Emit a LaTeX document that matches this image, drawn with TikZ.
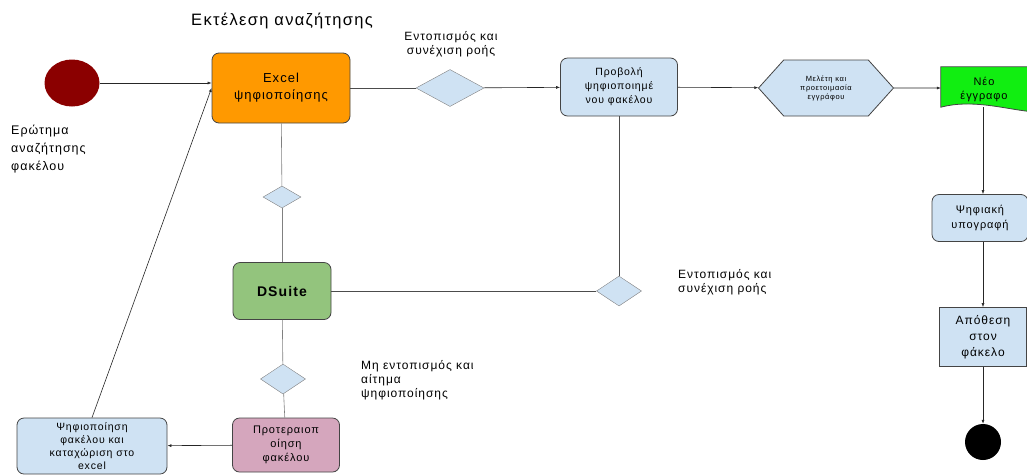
\documentclass[tikz,border=0pt]{standalone}
\usepackage{fontspec}
\setmainfont{Liberation Sans}[LetterSpace=8]
\usetikzlibrary{shapes.geometric,shapes.symbols,arrows.meta}

\definecolor{excelorange}{HTML}{FF9900}
\definecolor{paleblue}{HTML}{CFE2F3}
\definecolor{dsgreen}{HTML}{93C47D}
\definecolor{prioPink}{HTML}{D5A6BD}
\definecolor{startred}{HTML}{8B0000}
\definecolor{newgreen}{HTML}{11EE11}
\definecolor{edgegray}{HTML}{444444}

\begin{document}
\begin{tikzpicture}[
			x=1pt, y=-1pt,
			every node/.style={font=\fontsize{11}{13}\selectfont, align=center, inner sep=1pt},
			taskbox/.style={draw=edgegray, thick, rounded corners=7pt, minimum width=#1},
			taskbox/.default=118pt,
			choice/.style={diamond, draw=gray, fill=paleblue, aspect=1.6, inner sep=0pt},
			flow/.style={draw=black!85, semithick, -{Latex[length=4pt,width=3pt]}},
			link/.style={draw=black!70, semithick},
			note/.style={align=left, font=\fontsize{12}{14}\selectfont}
			]
			
			\useasboundingbox (0,0) rectangle (1027,475);
			
			% start and title
			\node[ellipse, fill=startred, minimum width=55pt, minimum height=47pt] (start) at (72,83) {};
			\node[note, anchor=north west, font=\fontsize{12.5}{18}\selectfont] (query) at (10,124) {Ερώτημα\\αναζήτησης\\φακέλου};
			\node[font=\fontsize{16.5}{19}\selectfont] (title) at (282,21) {Εκτέλεση αναζήτησης};
			
			% top row
			\node[taskbox=138pt, fill=excelorange, minimum height=70pt, font=\fontsize{13}{17}\selectfont] (excel) at (281,88) {Excel\\ψηφιοποίησης};
			\node[choice, minimum width=68pt, minimum height=37pt] (find1) at (450,88) {};
			\node[note, align=center] (find1lbl) at (451,44) {Εντοπισμός και\\συνέχιση ροής};
			\node[taskbox=117pt, fill=paleblue, minimum height=58pt, font=\fontsize{10.5}{14}\selectfont] (view) at (619,87) {Προβολή\\ψηφιοποιημέ\\νου φακέλου};
			\node[signal, signal to=east and west, signal pointer angle=96, draw=edgegray, thick, fill=paleblue,
				minimum width=135pt, minimum height=56pt, font=\fontsize{7.5}{9}\selectfont] (study) at (826,88) {Μελέτη και\\προετοιμασία\\εγγράφου};
			\node[minimum width=86pt, minimum height=40pt] (newdoc) at (984,87) {};
			
			% right column
			\node[taskbox=96pt, fill=paleblue, minimum height=47pt, font=\fontsize{11}{15}\selectfont] (sign) at (980,218) {Ψηφιακή\\υπογραφή};
			\node[draw=edgegray, thick, fill=paleblue, minimum width=87pt, minimum height=59pt, font=\fontsize{12}{16}\selectfont] (store) at (983,337) {Απόθεση\\στον\\φάκελο};
			\node[circle, fill=black, minimum size=36pt] (finish) at (983,442) {};
			
			% middle
			\node[choice, minimum width=38pt, minimum height=22pt] (find3) at (282,197) {};
			\node[taskbox=98pt, fill=dsgreen, minimum height=57pt, font=\fontsize{14}{17}\selectfont\bfseries] (dsuite) at (282,291) {DSuite};
			\node[choice, minimum width=45pt, minimum height=30pt] (find2) at (619,291) {};
			\node[note, anchor=west] (find2lbl) at (677,282) {Εντοπισμός και\\συνέχιση ροής};
			\node[choice, minimum width=45pt, minimum height=30pt] (nofind) at (283,379) {};
			\node[note, anchor=west] (nofindlbl) at (360,380) {Μη εντοπισμός και\\αίτημα\\ψηφιοποίησης};
			
			% bottom row
			\node[taskbox=107pt, fill=prioPink, minimum height=54pt, font=\fontsize{11}{14}\selectfont] (prio) at (286,445) {Προτεραιοπ\\οίηση\\φακέλου};
			\node[taskbox=150pt, fill=paleblue, minimum height=56pt, font=\fontsize{10.5}{13}\selectfont] (digit) at (92,446) {Ψηφιοποίηση\\φακέλου και\\καταχώριση στο\\excel};
			
			% wavy document shape
			\fill[newgreen] (newdoc.north west) -- (newdoc.north east) -- ([yshift=-4pt]newdoc.south east)
				.. controls ([xshift=-25pt,yshift=-1pt]newdoc.south east) and ([xshift=30pt,yshift=8pt]newdoc.south west) .. (newdoc.south west) -- cycle;
			\draw[edgegray, thick] ([yshift=-4pt]newdoc.south east)
				.. controls ([xshift=-25pt,yshift=-1pt]newdoc.south east) and ([xshift=30pt,yshift=8pt]newdoc.south west) .. (newdoc.south west)
				-- (newdoc.north west) -- (newdoc.north east);
			\node[font=\fontsize{11}{14}\selectfont] (newdoclbl) at ([yshift=-2pt]newdoc.center) {Νέο\\έγγραφο};
			
			% connectors
			\draw[flow] (start.east) -- (start.east -| excel.west);
			\draw[link] (excel) -- (find1);
			\draw[flow] (find1) -- (view);
			\draw[flow] (view) -- (study);
			\draw[flow] (study) -- (newdoc.west |- study);
			\draw[flow] (newdoc.south -| store) -- (sign.north -| store);
			\draw[flow] (sign.south -| store) -- (store);
			\draw[flow] (store) -- (finish);
			\draw[link, gray] (excel) -- (find3);
			\draw[link, gray] (find3) -- (dsuite);
			\draw[link] (view.south -| find2) -- (find2);
			\draw[link] (dsuite) -- (find2);
			\draw[link, gray] (dsuite) -- (nofind);
			\draw[link, gray] (nofind) -- (prio);
			\draw[flow] (prio) -- (digit);
			\draw[flow] (digit.north) -- (excel.west);
		\end{tikzpicture}
\end{document}
